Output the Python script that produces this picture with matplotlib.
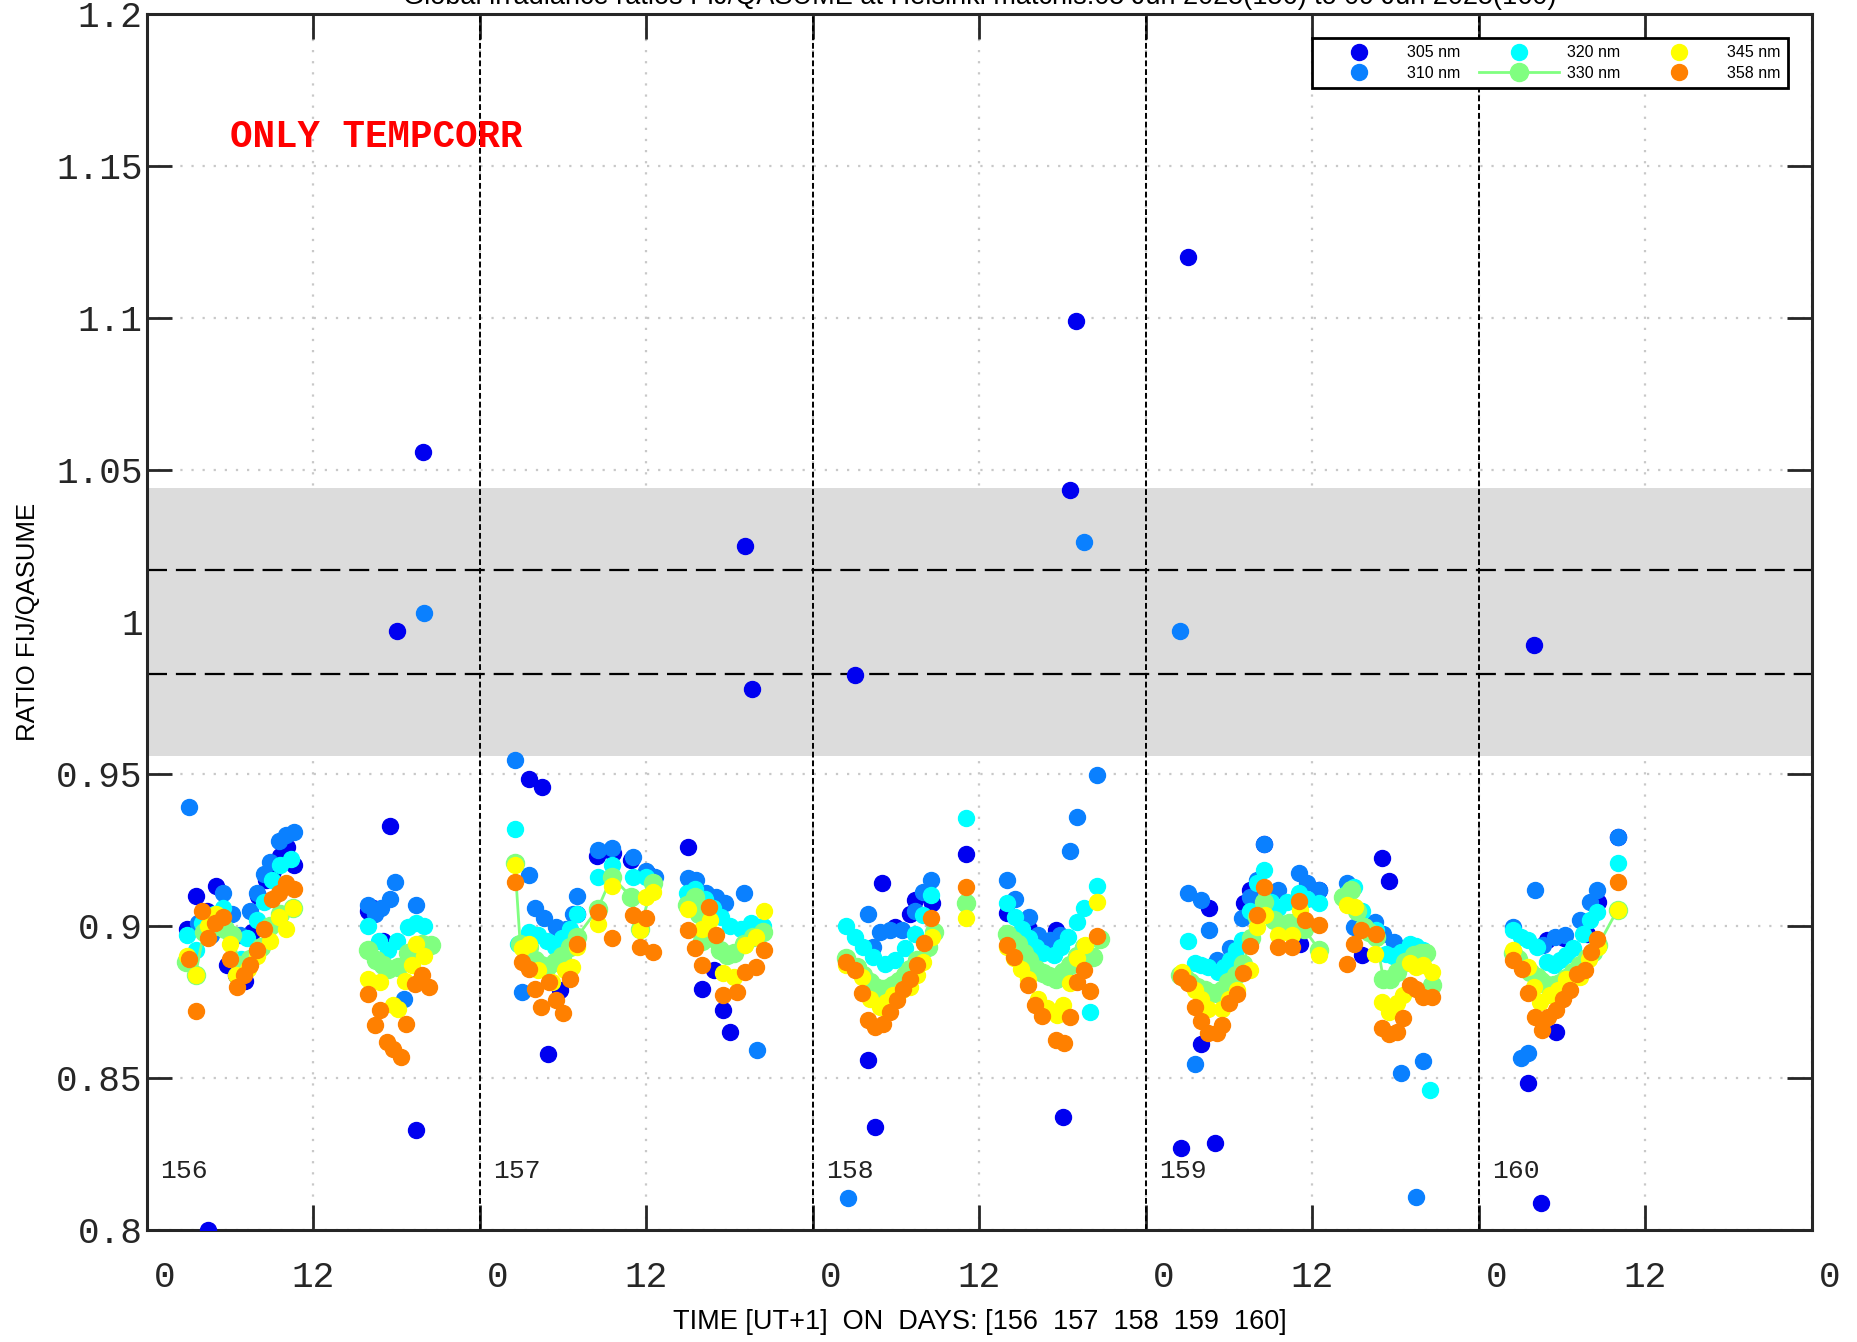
import numpy as np
import matplotlib
matplotlib.use("Agg")
import matplotlib.pyplot as plt
import matplotlib.transforms as mtransforms

# hours (UT+1) within each day, one inner list per day 156..160
days = [156, 157, 158, 159, 160]
wavelengths = ["305 nm", "310 nm", "320 nm", "330 nm", "345 nm", "358 nm"]
colors = ["#0000F0", "#0A80FF", "#00FFFF", "#80FF80", "#FFFF00", "#FF8000"]

t305 = [[2.9, 3.5, 4.3, 4.4, 5.0, 5.8, 6.4, 7.1, 7.6, 8.0, 8.6, 9.1, 9.6, 10.1, 10.6, 15.9, 16.3, 17.0, 17.5, 18.0, 19.4, 19.9],
        [3.5, 4.5, 4.9, 5.8, 7.0, 8.4, 9.6, 10.9, 12.1, 15.0, 16.0, 16.9, 17.5, 18.0, 19.1, 19.6],
        [3.0, 4.0, 4.5, 4.95, 5.9, 7.0, 7.35, 8.55, 11.0, 13.96, 15.5, 17.5, 18.04, 18.53, 18.96],
        [2.5, 3.0, 4.0, 4.54, 5.0, 7.06, 7.5, 8.5, 11.1, 12.5, 15.54, 17.0, 17.5],
        [3.55, 4.0, 4.5, 4.9, 5.55, 6.1, 7.76, 8.6, 10.0]]
v305 = [[0.899, 0.910, 0.905, 0.800, 0.913, 0.887, 0.884, 0.882, 0.898, 0.910, 0.915, 0.918, 0.923, 0.926, 0.920, 0.905, 0.906, 0.895, 0.933, 0.997, 0.833, 1.056],
        [0.9485, 0.9458, 0.858, 0.879, 0.904, 0.923, 0.924, 0.9217, 0.917, 0.926, 0.8794, 0.8854, 0.8723, 0.8652, 1.025, 0.978],
        [0.9826, 0.8558, 0.8337, 0.9142, 0.8997, 0.904, 0.9085, 0.9074, 0.9236, 0.9041, 0.8997, 0.8988, 0.8372, 1.0435, 1.0989],
        [0.827, 1.120, 0.8611, 0.9058, 0.8287, 0.9074, 0.9118, 0.9271, 0.8942, 0.9118, 0.8904, 0.9224, 0.9149],
        [0.8484, 0.9924, 0.809, 0.8953, 0.8652, 0.8959, 0.8975, 0.908, 0.9291]]

t310 = [[3.0, 3.7, 4.6, 5.5, 6.1, 6.7, 7.4, 7.9, 8.4, 8.9, 9.5, 10.0, 10.6, 15.9, 16.4, 16.9, 17.5, 17.9, 18.5, 19.4, 20.0],
        [2.5, 3.0, 3.5, 4.0, 4.6, 5.5, 6.2, 6.7, 7.0, 8.5, 9.5, 11.05, 12.0, 12.6, 15.0, 15.6, 16.3, 17.0, 17.65, 19.0, 20.0],
        [2.5, 4.0, 4.35, 4.8, 5.55, 6.4, 7.35, 7.95, 8.5, 14.0, 14.56, 15.6, 16.2, 17.1, 17.8, 18.5, 19.0, 19.5, 20.5],
        [2.48, 3.0, 3.53, 4.0, 4.54, 5.1, 6.05, 6.9, 7.5, 8.0, 8.5, 9.5, 11.0, 11.6, 12.5, 14.5, 15.0, 16.5, 17.1, 17.9, 18.4, 19.5, 20.0],
        [2.47, 3.0, 3.55, 4.04, 4.64, 5.5, 6.2, 7.3, 8.0, 8.5, 10.0]]
v310 = [[0.939, 0.901, 0.897, 0.911, 0.904, 0.897, 0.905, 0.911, 0.917, 0.921, 0.928, 0.930, 0.931, 0.907, 0.904, 0.906, 0.909, 0.9145, 0.876, 0.9068, 1.003],
        [0.9546, 0.8783, 0.9167, 0.9058, 0.9025, 0.8997, 0.899, 0.904, 0.910, 0.925, 0.9255, 0.9228, 0.918, 0.9162, 0.9157, 0.915, 0.911, 0.9096, 0.9074, 0.9107, 0.8591],
        [0.8105, 0.904, 0.8931, 0.898, 0.8986, 0.8986, 0.905, 0.9112, 0.915, 0.915, 0.909, 0.9028, 0.897, 0.8955, 0.897, 0.9247, 0.936, 1.0263, 0.9495],
        [0.997, 0.911, 0.8547, 0.9085, 0.8986, 0.8888, 0.8926, 0.9025, 0.9096, 0.915, 0.9269, 0.9118, 0.9173, 0.914, 0.9118, 0.914, 0.8997, 0.9014, 0.8975, 0.8948, 0.8517, 0.8107, 0.8555],
        [0.8997, 0.8567, 0.8583, 0.9118, 0.8937, 0.8964, 0.897, 0.902, 0.908, 0.9118, 0.9293]]

t320 = [[2.9, 3.5, 4.0, 4.8, 5.5, 6.2, 6.8, 7.2, 7.9, 8.4, 9.0, 9.6, 10.4, 15.9, 16.7, 17.4, 18.0, 18.8, 19.4, 20.0],
        [2.52, 2.76, 3.5, 4.2, 4.8, 5.4, 5.9, 6.5, 7.0, 8.5, 9.5, 11.05, 12.0, 12.5, 14.9, 15.5, 16.2, 16.8, 17.4, 18.0, 18.8, 19.5, 20.4],
        [2.4, 3.0, 3.6, 4.35, 5.2, 5.9, 6.63, 7.35, 7.95, 8.5, 11.0, 13.96, 14.56, 15.1, 15.6, 16.1, 16.6, 17.4, 17.9, 18.4, 19.0, 19.5, 20.0, 20.5],
        [3.0, 3.53, 4.0, 4.5, 5.2, 5.6, 6.05, 6.5, 6.9, 7.5, 8.0, 8.5, 9.0, 9.5, 10.2, 11.0, 11.6, 12.5, 14.5, 15.0, 15.6, 16.6, 17.3, 17.8, 18.4, 19.0, 19.5, 20.0, 20.5],
        [2.47, 3.0, 3.55, 4.15, 4.9, 5.4, 5.84, 6.3, 6.8, 7.5, 8.0, 8.5, 10.0]]
v320 = [[0.897, 0.892, 0.901, 0.904, 0.906, 0.897, 0.889, 0.896, 0.902, 0.908, 0.915, 0.920, 0.922, 0.900, 0.895, 0.892, 0.895, 0.8997, 0.901, 0.900],
        [0.932, 0.894, 0.898, 0.897, 0.895, 0.893, 0.896, 0.899, 0.904, 0.916, 0.920, 0.9162, 0.916, 0.914, 0.911, 0.912, 0.909, 0.906, 0.903, 0.900, 0.899, 0.901, 0.900],
        [0.900, 0.8964, 0.8931, 0.8898, 0.8876, 0.8888, 0.8926, 0.8975, 0.9036, 0.9102, 0.9356, 0.9074, 0.903, 0.899, 0.8959, 0.893, 0.891, 0.8904, 0.893, 0.8964, 0.9014, 0.906, 0.8717, 0.9131],
        [0.895, 0.8877, 0.887, 0.8866, 0.8849, 0.8865, 0.8888, 0.892, 0.8953, 0.905, 0.914, 0.9184, 0.908, 0.9058, 0.908, 0.9107, 0.909, 0.9074, 0.911, 0.9129, 0.905, 0.8986, 0.8909, 0.890, 0.8915, 0.8942, 0.8935, 0.8920, 0.846],
        [0.8986, 0.8965, 0.8953, 0.8931, 0.8882, 0.887, 0.8888, 0.8905, 0.8926, 0.8975, 0.902, 0.9047, 0.9206]]

t330 = [[2.8, 3.5, 4.1, 4.9, 5.6, 6.1, 6.7, 7.4, 8.2, 8.9, 9.6, 10.5, 15.9, 16.5, 17.0, 17.4, 18.1, 18.8, 19.3, 19.8, 20.5],
        [2.52, 2.9, 3.5, 3.96, 4.4, 4.8, 5.4, 5.9, 6.5, 7.0, 8.5, 9.5, 10.9, 11.5, 12.5, 14.9, 15.5, 15.8, 16.0, 16.3, 16.8, 17.3, 17.8, 18.3, 19.0, 19.7, 20.4],
        [2.4, 3.15, 3.6, 4.1, 4.5, 4.95, 5.4, 5.8, 6.2, 6.63, 7.0, 7.5, 8.3, 8.7, 11.0, 13.96, 14.4, 14.8, 15.2, 15.6, 16.1, 16.6, 17.0, 17.5, 18.0, 18.5, 19.0, 19.5, 20.2, 20.7],
        [2.45, 2.8, 3.2, 3.7, 4.25, 4.7, 5.1, 5.5, 5.93, 6.5, 7.0, 7.6, 8.0, 8.5, 9.2, 9.8, 10.3, 10.85, 11.4, 12.5, 14.2, 14.8, 15.2, 15.7, 16.1, 16.6, 17.1, 17.6, 18.1, 18.7, 19.3, 19.8, 20.2, 20.6],
        [2.47, 2.8, 3.2, 3.7, 4.15, 4.5, 4.9, 5.4, 5.84, 6.3, 6.8, 7.3, 7.76, 8.2, 8.6, 10.0]]
v330 = [[0.888, 0.884, 0.898, 0.900, 0.899, 0.897, 0.887, 0.889, 0.893, 0.900, 0.904, 0.906, 0.892, 0.8887, 0.887, 0.886, 0.8865, 0.891, 0.8925, 0.894, 0.8936],
        [0.9206, 0.894, 0.893, 0.8888, 0.887, 0.8866, 0.888, 0.890, 0.893, 0.8964, 0.9057, 0.9162, 0.9096, 0.899, 0.914, 0.907, 0.9096, 0.904, 0.895, 0.901, 0.896, 0.892, 0.8905, 0.891, 0.894, 0.8965, 0.898],
        [0.8893, 0.8866, 0.884, 0.8816, 0.880, 0.8794, 0.8795, 0.8805, 0.882, 0.8838, 0.886, 0.8888, 0.8931, 0.898, 0.9074, 0.8975, 0.8955, 0.8942, 0.891, 0.8888, 0.886, 0.8844, 0.8835, 0.8827, 0.885, 0.8871, 0.890, 0.8931, 0.8898, 0.8956],
        [0.8838, 0.883, 0.8816, 0.880, 0.8789, 0.878, 0.8778, 0.879, 0.8816, 0.884, 0.8876, 0.896, 0.903, 0.908, 0.902, 0.9003, 0.901, 0.9014, 0.899, 0.892, 0.9096, 0.9118, 0.905, 0.8997, 0.898, 0.8964, 0.8827, 0.8825, 0.8849, 0.888, 0.8904, 0.891, 0.891, 0.8805],
        [0.891, 0.889, 0.8866, 0.885, 0.8833, 0.882, 0.8805, 0.8805, 0.8811, 0.883, 0.8849, 0.887, 0.8893, 0.8915, 0.8937, 0.9054]]

t345 = [[2.9, 3.5, 4.4, 5.0, 6.0, 6.4, 7.3, 7.9, 8.9, 9.5, 10.0, 10.5, 15.9, 16.8, 17.7, 18.1, 18.6, 19.1, 19.4, 20.0],
        [2.52, 3.0, 3.5, 4.2, 5.2, 6.1, 6.6, 7.0, 8.5, 9.5, 11.5, 12.0, 12.5, 15.0, 16.0, 16.6, 17.5, 18.3, 19.1, 19.9, 20.5],
        [2.4, 3.5, 4.1, 4.8, 5.3, 5.8, 6.4, 7.0, 7.5, 7.95, 8.55, 11.0, 13.96, 14.5, 15.0, 15.5, 16.2, 16.9, 17.6, 18.04, 18.5, 19.0, 19.6, 20.5],
        [2.57, 3.53, 4.0, 4.5, 5.45, 6.0, 6.53, 7.5, 8.0, 8.6, 9.5, 10.5, 11.1, 12.5, 14.5, 15.1, 16.5, 17.0, 17.5, 18.1, 18.5, 19.0, 19.5, 20.0, 20.6],
        [2.47, 3.55, 4.0, 4.4, 5.1, 5.7, 6.3, 7.3, 7.9, 8.6, 10.0]]
v345 = [[0.890, 0.884, 0.900, 0.904, 0.894, 0.884, 0.886, 0.890, 0.895, 0.903, 0.899, 0.906, 0.8827, 0.8816, 0.874, 0.8728, 0.882, 0.887, 0.894, 0.890],
        [0.920, 0.8926, 0.894, 0.8855, 0.8816, 0.8855, 0.8866, 0.893, 0.9008, 0.913, 0.8986, 0.9096, 0.9112, 0.9057, 0.899, 0.902, 0.8844, 0.8833, 0.8937, 0.8964, 0.905],
        [0.887, 0.8833, 0.8761, 0.8734, 0.875, 0.8772, 0.879, 0.880, 0.884, 0.8882, 0.8964, 0.9025, 0.8931, 0.8893, 0.886, 0.8827, 0.8761, 0.873, 0.8706, 0.874, 0.8811, 0.8893, 0.8937, 0.908],
        [0.8849, 0.8789, 0.876, 0.8728, 0.8728, 0.876, 0.8789, 0.8855, 0.8997, 0.9036, 0.897, 0.897, 0.9052, 0.8904, 0.907, 0.9063, 0.8909, 0.875, 0.8717, 0.8745, 0.8772, 0.8877, 0.8865, 0.8871, 0.8849],
        [0.892, 0.8866, 0.880, 0.875, 0.8772, 0.879, 0.8827, 0.8833, 0.889, 0.8931, 0.9054]]

t358 = [[3.0, 3.5, 4.0, 4.4, 4.9, 5.5, 6.0, 6.5, 7.0, 7.45, 7.9, 8.4, 9.0, 9.5, 10.0, 10.6, 15.9, 16.4, 16.8, 17.3, 17.7, 18.3, 18.7, 19.3, 19.8, 20.3],
        [2.52, 3.0, 3.5, 3.96, 4.4, 5.0, 5.5, 6.0, 6.5, 7.0, 8.5, 9.5, 11.05, 11.5, 12.0, 12.5, 15.0, 15.5, 16.0, 16.5, 17.0, 17.5, 18.5, 19.1, 19.9, 20.5],
        [2.4, 3.0, 3.5, 4.0, 4.47, 5.07, 5.55, 6.03, 6.5, 7.0, 7.5, 8.0, 8.5, 11.0, 14.0, 14.5, 15.5, 16.0, 16.5, 17.5, 18.1, 18.5, 19.0, 19.5, 20.0, 20.5],
        [2.5, 3.05, 3.53, 4.0, 4.5, 5.1, 5.5, 6.0, 6.53, 7.0, 7.5, 8.0, 8.5, 9.5, 10.5, 11.05, 11.5, 12.5, 14.5, 15.0, 15.5, 16.55, 17.03, 17.5, 18.1, 18.5, 19.0, 19.5, 20.0, 20.6],
        [2.47, 3.08, 3.55, 4.04, 4.52, 5.0, 5.55, 6.03, 6.56, 7.04, 7.64, 8.05, 8.53, 10.0]]
v358 = [[0.889, 0.872, 0.905, 0.896, 0.901, 0.903, 0.889, 0.880, 0.884, 0.887, 0.892, 0.899, 0.909, 0.911, 0.914, 0.912, 0.8777, 0.8673, 0.8722, 0.8618, 0.8596, 0.8569, 0.8679, 0.881, 0.884, 0.880],
        [0.9145, 0.8882, 0.886, 0.8794, 0.8734, 0.8816, 0.8756, 0.8714, 0.8827, 0.894, 0.9047, 0.8959, 0.9036, 0.8931, 0.9025, 0.8915, 0.8986, 0.8926, 0.8871, 0.9063, 0.897, 0.8772, 0.8783, 0.8849, 0.8866, 0.892],
        [0.8882, 0.8855, 0.8778, 0.8690, 0.8668, 0.8679, 0.8718, 0.8756, 0.8794, 0.8827, 0.8871, 0.8945, 0.9025, 0.9127, 0.8937, 0.8898, 0.8805, 0.8739, 0.8703, 0.8624, 0.8615, 0.870, 0.8816, 0.8855, 0.8787, 0.8968],
        [0.8833, 0.8813, 0.8734, 0.8688, 0.8648, 0.8648, 0.8674, 0.8745, 0.8776, 0.8844, 0.8934, 0.9036, 0.9127, 0.8931, 0.8931, 0.9082, 0.902, 0.9003, 0.8874, 0.894, 0.8988, 0.8975, 0.8663, 0.8646, 0.8652, 0.8696, 0.8805, 0.8794, 0.8767, 0.8767],
        [0.8888, 0.886, 0.8781, 0.8699, 0.8657, 0.8699, 0.8725, 0.8761, 0.8789, 0.8842, 0.8855, 0.8915, 0.8956, 0.9145]]

times = [t305, t310, t320, t330, t345, t358]
ratios = [v305, v310, v320, v330, v345, v358]

# QASUME agreement band and limits
band_lo, band_hi = 0.956, 1.044
lim_lo, lim_hi = 0.983, 1.017

yticks = [0.8, 0.85, 0.9, 0.95, 1.0, 1.05, 1.1, 1.15, 1.2]
ytick_labels = ["0.8", "0.85", "0.9", "0.95", "1", "1.05", "1.1", "1.15", "1.2"]
xticks = list(range(0, 121, 12))
xtick_labels = ["0" if i % 2 == 0 else "12" for i in range(len(xticks))]

mono = "Liberation Mono"
sans = "Liberation Sans"

fig = plt.figure(figsize=(18.58, 13.42), dpi=100)
ax = fig.add_axes([0.0791, 0.0835, 0.8961, 0.9061])


def join_days(t_days, v_days):
    xs, ys = [], []
    for k, (tt, vv) in enumerate(zip(t_days, v_days)):
        for j in range(len(tt)):
            # break the line where the time gap is large
            if j > 0 and tt[j] - tt[j - 1] > 1.6:
                xs.append(np.nan)
                ys.append(np.nan)
            xs.append(k * 24 + tt[j])
            ys.append(vv[j])
        xs.append(np.nan)
        ys.append(np.nan)
    return np.array(xs), np.array(ys)


for i, name in enumerate(wavelengths):
    x, y = join_days(times[i], ratios[i])
    if name == "330 nm":
        ax.plot(x, y, "-o", color=colors[i], ms=13, lw=2, mec=colors[i], label=name, zorder=3 + i)
    else:
        ax.plot(x, y, "o", color=colors[i], ms=11.5, mec=colors[i], label=name, zorder=3 + i)

ax.axhspan(band_lo, band_hi, color="#DCDCDC", zorder=1, lw=0)
for yl in (lim_lo, lim_hi):
    ax.axhline(yl, color="black", ls=(0, (9, 4)), lw=1.6, zorder=1.5)
for k in range(1, len(days)):
    ax.axvline(k * 24, color="black", ls=(0, (3, 1.5)), lw=1.4, zorder=1.5)

for k, d in enumerate(days):
    ax.text(k * 24 + 0.95, 0.8195, str(d), family=mono, fontsize=19, ha="left", va="center", color="#222222")

ax.text(6.0, 1.1595, "ONLY TEMPCORR", family=mono, fontsize=27, fontweight="bold",
        color="#FF0000", ha="left", va="center")

ax.set_xlim(0, 120)
ax.set_ylim(0.8, 1.2)
ax.set_xticks(xticks)
ax.set_xticklabels(xtick_labels, family=mono, fontsize=26)
ax.set_yticks(yticks)
ax.set_yticklabels(ytick_labels, family=mono, fontsize=26)
ax.tick_params(axis="both", direction="in", length=18, width=2, colors="#262626",
               top=True, right=True)
ax.tick_params(axis="x", pad=22)
ax.tick_params(axis="y", pad=3)

# the "0" labels sit a little right of their tick
offset = mtransforms.ScaledTranslation(18 / 100, 0, fig.dpi_scale_trans)
for lab in ax.get_xticklabels():
    if lab.get_text() == "0":
        lab.set_transform(lab.get_transform() + offset)

ax.set_axisbelow(True)
ax.grid(True, ls=(0, (1, 4)), color="#C8C8C8", lw=1.6)
for s in ax.spines.values():
    s.set_linewidth(2.2)
    s.set_color("#262626")

ax.set_xlabel("TIME [UT+1]  ON  DAYS: [156  157  158  159  160]", family=sans, fontsize=19.5, labelpad=10)
ax.set_ylabel("RATIO FIJ/QASUME", family=sans, fontsize=18.5, labelpad=12)
ax.set_title("Global irradiance ratios FIJ/QASUME at Helsinki matchis:05 Jun 2025(156) to 09 Jun 2025(160)",
             family=sans, fontsize=19.5, pad=7)

leg = ax.legend(loc="upper right", ncol=3, prop={"family": sans, "size": 11.5},
                frameon=True, fancybox=False, framealpha=1, edgecolor="black",
                handlelength=5.0, handletextpad=0.5, columnspacing=1.2, borderaxespad=1.5,
                borderpad=0.45, labelspacing=0.35)
leg.get_frame().set_linewidth(2)

fig.savefig("out.png", dpi=100)
